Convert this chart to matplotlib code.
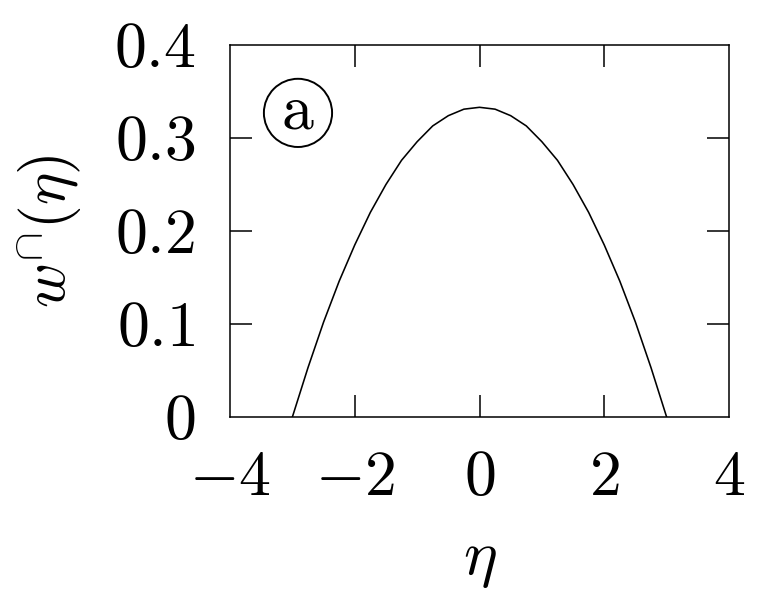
import matplotlib
matplotlib.use('Agg')
import matplotlib.pyplot as plt

matplotlib.rcParams.update({
    'font.family': 'serif',
    'font.serif': ['cmr10', 'DejaVu Serif'],
    'mathtext.fontset': 'cm',
    'axes.linewidth': 1.1,
    'axes.unicode_minus': True,
})

# ---- data ----
eta = [-3.0, -2.75, -2.5, -2.25, -2.0, -1.75, -1.5, -1.25, -1.0, -0.75, -0.5, -0.25, 0.0,
       0.25, 0.5, 0.75, 1.0, 1.25, 1.5, 1.75, 2.0, 2.25, 2.5, 2.75, 3.0]
w_cap = [0.0, 0.053, 0.102, 0.146, 0.185, 0.220, 0.250, 0.276, 0.296, 0.313, 0.324, 0.331, 0.333,
         0.331, 0.324, 0.313, 0.296, 0.276, 0.250, 0.220, 0.185, 0.146, 0.102, 0.053, 0.0]
x_ticks = [-4, -2, 0, 2, 4]
x_labels = [r'$-4$', r'$-2$', r'$0$', r'$2$', r'$4$']
y_ticks = [0, 0.1, 0.2, 0.3, 0.4]
y_labels = [r'$0$', r'$0.1$', r'$0.2$', r'$0.3$', r'$0.4$']

FS = 46

fig = plt.figure(figsize=(7.6, 5.99), dpi=100)
ax = fig.add_axes([230 / 760, 1 - 417 / 599, (729 - 230) / 760, (417 - 45) / 599])

ax.plot(eta, w_cap, color='black', lw=1.15)
ax.set_xlim(-4, 4)
ax.set_ylim(0, 0.4)
ax.set_xticks(x_ticks)
ax.set_xticklabels(x_labels, fontsize=FS)
ax.set_yticks(y_ticks)
ax.set_yticklabels(y_labels, fontsize=FS)
ax.tick_params(direction='in', length=16, width=1.1, top=True, right=True)
ax.tick_params(axis='x', pad=24)
ax.tick_params(axis='y', pad=25)
# hide the ticks that sit on the frame corners
for t in ax.xaxis.get_major_ticks()[::4]:
    t.tick1line.set_visible(False)
    t.tick2line.set_visible(False)
for t in ax.yaxis.get_major_ticks()[::4]:
    t.tick1line.set_visible(False)
    t.tick2line.set_visible(False)

ax.set_xlabel(r'$\eta$', fontsize=FS, labelpad=17)
ax.set_ylabel(r'$w^{\cap}(\eta)$', fontsize=44, labelpad=21)

ax.text(-2.91, 0.327, r'$\mathrm{a}$', fontsize=FS, ha='center', va='center',
        bbox=dict(boxstyle='circle,pad=0.08', fc='white', ec='black', lw=1.4))

fig.savefig('out.png', dpi=100, facecolor='white')
